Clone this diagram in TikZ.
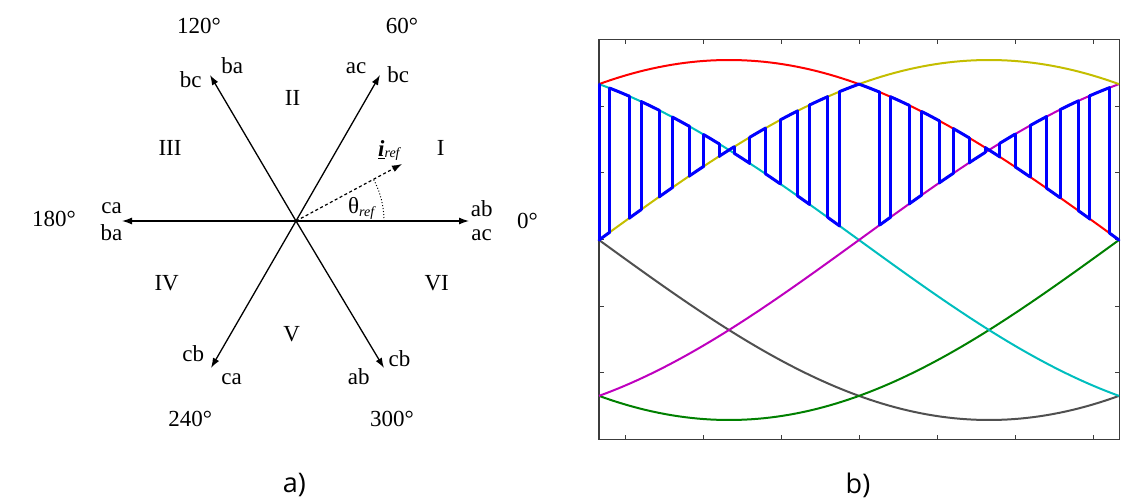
\documentclass[tikz,border=0pt]{standalone}
\usepackage{fontspec}
\setmainfont{Liberation Serif}
\newfontfamily\capfont{Open Sans}
\usetikzlibrary{arrows.meta}
\definecolor{cyl}{RGB}{196,190,0}
\definecolor{ccy}{RGB}{0,190,190}
\definecolor{cmg}{RGB}{190,0,190}
\definecolor{cgr}{RGB}{80,80,80}
\definecolor{cgn}{RGB}{0,128,0}
\definecolor{cbl}{RGB}{0,0,255}
\definecolor{cax}{RGB}{60,60,60}
\begin{document}
\begin{tikzpicture}[x=1pt,y=-1pt,
  lbl/.style={font=\fontsize{23}{26}\selectfont, inner sep=0pt, anchor=base},
  captext/.style={font=\capfont\fontsize{27}{30}\selectfont, inner sep=0pt, anchor=base},
  vec/.style={line width=1.3pt, -{Latex[length=10pt,width=7pt]}},
  refvec/.style={line width=1.2pt, dash pattern=on 3pt off 2.5pt, -{Latex[length=10pt,width=7pt]}},
  curve/.style={line width=2pt},
  bl/.style={line width=3pt, cbl, line cap=round, line join=round},
  axis/.style={line width=1.1pt, cax}]
\useasboundingbox (0,0) rectangle (1143,500);
% ---------------- panel a) ----------------
\coordinate (O) at (296,221);
\coordinate (E0) at (469,221);
\coordinate (E60) at (380,75);
\coordinate (E120) at (210,75);
\coordinate (E180) at (122,221);
\coordinate (E240) at (211,368);
\coordinate (E300) at (384,368);
\coordinate (Eref) at (402,164);
\foreach \e in {E0,E60,E120,E180,E240,E300} \draw[vec] (O) -- (\e);
\draw[refvec] (O) -- (Eref);
\draw[line width=1pt, dotted] plot[domain=0:28, samples=30] ({296+88*cos(\x)},{221-88*sin(\x)});
\node[lbl] (d120) at (199,33.3) {120°};
\node[lbl] (d60) at (402,33.3) {60°};
\node[lbl] (d180) at (54,226.7) {180°};
\node[lbl] (d0) at (527.5,228.3) {0°};
\node[lbl] (d240) at (190.3,426.7) {240°};
\node[lbl] (d300) at (392,426.7) {300°};
\node[lbl] (l120a) at (190.8,87.3) {bc};
\node[lbl] (l120b) at (232.3,74) {ba};
\node[lbl] (l60a) at (356,74) {ac};
\node[lbl] (l60b) at (398.3,82.3) {bc};
\node[lbl] (l180a) at (111.5,213.5) {ca};
\node[lbl] (l180b) at (111.5,240) {ba};
\node[lbl] (l0a) at (481.7,216) {ab};
\node[lbl] (l0b) at (481.7,240) {ac};
\node[lbl] (l240a) at (193.3,361.7) {cb};
\node[lbl] (l240b) at (231.7,384) {ca};
\node[lbl] (l300a) at (358.7,384) {ab};
\node[lbl] (l300b) at (399.5,366.7) {cb};
\node[lbl] (sI) at (440.8,156) {I};
\node[lbl] (sII) at (292.5,106) {II};
\node[lbl] (sIII) at (170,156) {III};
\node[lbl] (sIV) at (166.7,290) {IV};
\node[lbl] (sV) at (291.7,341.7) {V};
\node[lbl] (sVI) at (436.7,290) {VI};
\node[lbl, anchor=base west] (iref) at (378,156.7) {\textit{\textbf{\underline{i}}}\raisebox{-1pt}{\fontsize{14}{14}\selectfont\itshape ref}};
\node[lbl, anchor=base west] (thref) at (348,213.3) {θ\raisebox{-3pt}{\fontsize{14}{14}\selectfont\itshape ref}};
\node[captext] (capa) at (294.3,492) {a)};
\node[captext] (capb) at (858,493) {b)};
% ---------------- panel b) ----------------
\draw[axis] (599,39.3) rectangle (1119.3,439.3);
\foreach \t in {6,24,42,60,78,96,114} {
  \draw[axis, line width=0.9pt] ({599+4.33333*\t},39.3) -- ++(0,4.5);
  \draw[axis, line width=0.9pt] ({599+4.33333*\t},439.3) -- ++(0,-4.5);
}
\foreach \yy in {106,172.7,239.3,306,372.7} {
  \draw[axis, line width=0.9pt] (599,\yy) -- ++(4.5,0);
  \draw[axis, line width=0.9pt] (1119.3,\yy) -- ++(-4.5,0);
}
\draw[curve, cgr] plot[domain=0:120, samples=80] ({599+4.33333*\x},{240+180*cos(\x-90)});
\draw[curve, cgn] plot[domain=0:120, samples=80] ({599+4.33333*\x},{240+180*cos(\x-30)});
\draw[curve, ccy] plot[domain=0:120, samples=80] ({599+4.33333*\x},{240-180*cos(\x+30)});
\draw[curve, cmg] plot[domain=0:120, samples=80] ({599+4.33333*\x},{240-180*cos(\x-150)});
\draw[curve, red] plot[domain=0:120, samples=80] ({599+4.33333*\x},{240-180*cos(\x-30)});
\draw[curve, cyl] plot[domain=0:120, samples=80] ({599+4.33333*\x},{240-180*cos(\x-90)});
% blue switched envelope
\foreach \a/\b/\p in {0/2.5/90, 2.5/7/-30, 7/9.7/90, 9.7/13.9/-30, 13.9/17/90, 17/20.8/-30,
  20.8/24.2/90, 24.2/27.7/-30, 27.7/31.2/90, 31.2/34.8/-30, 34.8/38.4/90, 38.4/41.8/-30,
  41.8/45.8/90, 45.8/48.6/-30, 48.6/52.8/90, 52.8/55.5/-30, 55.5/60/90,
  60/64.8/30, 64.8/67.3/150, 67.3/71.6/30, 71.6/74.5/150, 74.5/78.5/30, 78.5/81.8/150,
  81.8/85.4/30, 85.4/89.1/150, 89.1/92.5/30, 92.5/96/150, 96/99.5/30, 99.5/103.3/150,
  103.3/106.4/30, 106.4/110.6/150, 110.6/113.3/30, 113.3/117.8/150, 117.8/120/30}
  \draw[bl] plot[domain=\a:\b, samples=8] ({599+4.33333*\x},{240-180*cos(\x-(\p))});
\foreach \t in {0,2.5,7,9.7,13.9,17,20.8,24.2,27.7,31.2,34.8,38.4,41.8,45.8,48.6,52.8,55.5}
  \draw[bl] ({599+4.33333*\t},{240-180*cos(\t-90)}) -- ({599+4.33333*\t},{240-180*cos(\t+30)});
\foreach \t in {64.8,67.3,71.6,74.5,78.5,81.8,85.4,89.1,92.5,96,99.5,103.3,106.4,110.6,113.3,117.8}
  \draw[bl] ({599+4.33333*\t},{240-180*cos(\t-30)}) -- ({599+4.33333*\t},{240-180*cos(\t-150)});
\end{tikzpicture}
\end{document}
